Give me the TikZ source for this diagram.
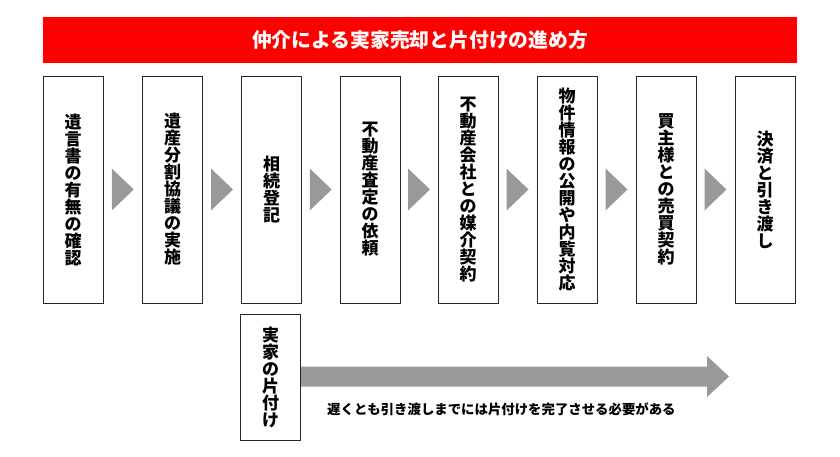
\documentclass[tikz,border=0pt]{standalone}
\usepackage{fontspec}
\setmainfont{Noto Sans CJK JP}
\begin{document}
\begin{tikzpicture}[x=1pt,y=-1pt,
 box/.style={draw=black!85,line width=1pt,fill=white,minimum width=60pt,inner sep=0pt,
   font=\fontsize{17}{17}\selectfont\bfseries,align=center},
 tri/.style={fill=black!40}]
\useasboundingbox (0,0) rectangle (840,456);
\node[fill=red,minimum width=754pt,minimum height=46pt,inner sep=0pt,text=white,
  font=\fontsize{19.8}{20}\selectfont\bfseries] (title) at (420,40) {仲介による実家売却と片付けの進め方};
\foreach \n/\x/\t in {
 b1/73/{遺\\言\\書\\の\\有\\無\\の\\確\\認},
 b2/172.5/{遺\\産\\分\\割\\協\\議\\の\\実\\施},
 b3/271.5/{相\\続\\登\\記},
 b4/370/{不\\動\\産\\査\\定\\の\\依\\頼},
 b5/468/{不\\動\\産\\会\\社\\と\\の\\媒\\介\\契\\約},
 b6/567/{物\\件\\情\\報\\の\\公\\開\\や\\内\\覧\\対\\応},
 b7/666/{買\\主\\様\\と\\の\\売\\買\\契\\約},
 b8/765/{決\\済\\と\\引\\き\\渡\\し}}
 {\node[box,minimum height=227pt] (\n) at (\x,189.5) {\t};}
\foreach \a/\b in {b1/b2,b2/b3,b3/b4,b4/b5,b5/b6,b6/b7,b7/b8}
 {\path (\a.east) -- (\b.west) coordinate[pos=0.5] (m\a);
  \fill[tri] ([xshift=-11pt,yshift=-21pt]m\a) -- ([xshift=11pt]m\a) -- ([xshift=-11pt,yshift=21pt]m\a) -- cycle;}
\node[box,minimum height=126pt] (k) at (270.5,377) {実\\家\\の\\片\\付\\け};
\coordinate (tip) at (729,376.5);
\fill[black!40] (k.east|-0,366.5) -- (707,366.5) -- (707,356) -- (tip) -- (707,397) -- (707,386.5) -- (k.east|-0,386.5) -- cycle;
\node[font=\fontsize{13.4}{14}\selectfont\bfseries,anchor=west,inner sep=0pt] (note) at (327,409) {遅くとも引き渡しまでには片付けを完了させる必要がある};
\end{tikzpicture}
\end{document}
